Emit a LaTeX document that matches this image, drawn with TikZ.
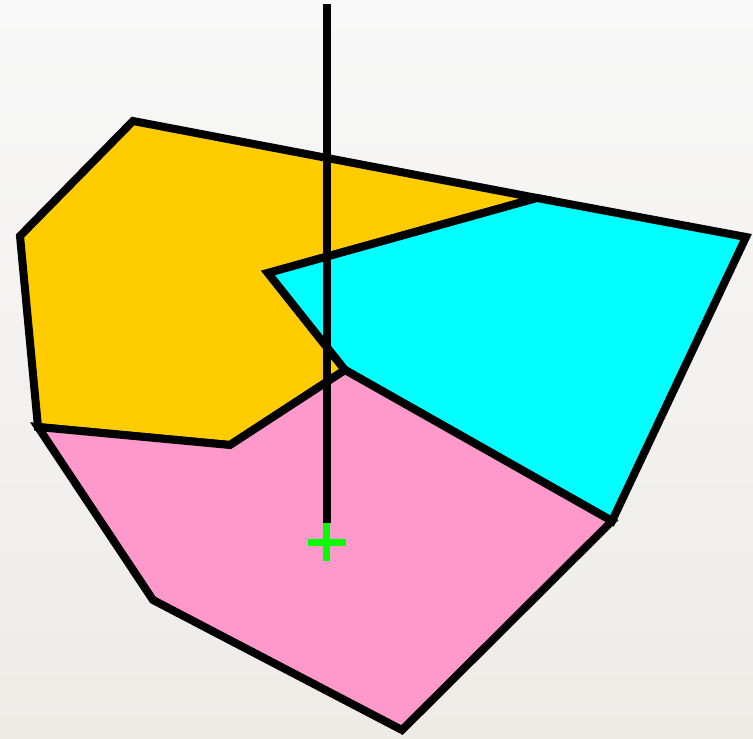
\documentclass[tikz,border=0pt]{standalone}
\usetikzlibrary{calc}
\begin{document}
\begin{tikzpicture}[x=1pt, y=-1pt,
  cell/.style={draw=black,line width=8pt,line join=miter},
  probe/.style={draw=black,line width=8pt},
  sitemark/.style={draw=green,line width=7pt}]
\definecolor{amber}{HTML}{FFCC00}
\definecolor{aqua}{HTML}{00FFFF}
\definecolor{rose}{HTML}{FF99CC}
\definecolor{bgtop}{HTML}{F8F8F8}
\definecolor{bgbot}{HTML}{EEEBE7}
\useasboundingbox (0,0) rectangle (753,739);
\shade[top color=bgtop,bottom color=bgbot] (0,0) rectangle (753,739);
% vertices
\coordinate (a) at (133,121);
\coordinate (b) at (537,198);
\coordinate (c) at (268,273);
\coordinate (d) at (345,370);
\coordinate (e) at (230,445);
\coordinate (f) at (38,427);
\coordinate (g) at (20,236);
\coordinate (h) at (746,237);
\coordinate (i) at (612,521);
\coordinate (j) at (402,730);
\coordinate (k) at (153,600);
% regions
\filldraw[cell,fill=amber] (a) -- (b) -- (c) -- (d) -- (e) -- (f) -- (g) -- cycle;
\filldraw[cell,fill=aqua] (c) -- (b) -- (h) -- (i) -- (d) -- cycle;
\filldraw[cell,fill=rose] (f) -- (e) -- (d) -- (i) -- (j) -- (k) -- cycle;
% probe line and site
\coordinate (top) at (326.5,4);
\coordinate (site) at (326.5,542);
\draw[probe] (top) -- (326.5,523);
\draw[sitemark] ($(site)+(-19,0)$) -- ($(site)+(19,0)$);
\draw[sitemark] ($(site)+(0,-19)$) -- ($(site)+(0,19)$);
\end{tikzpicture}
\end{document}
